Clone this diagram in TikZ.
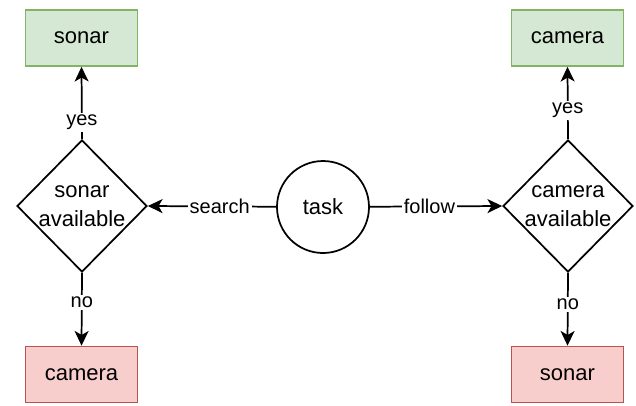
\documentclass[tikz,border=0pt]{standalone}
\usepackage{fontspec}
\setmainfont{Liberation Sans}
\usetikzlibrary{shapes.geometric,arrows.meta}
\definecolor{okfill}{HTML}{D5E8D4}
\definecolor{okline}{HTML}{82B366}
\definecolor{badfill}{HTML}{F8CECC}
\definecolor{badline}{HTML}{B85450}
\tikzset{
  box/.style={rectangle, draw, line width=1.3pt, minimum width=84pt, minimum height=42pt, inner sep=0pt,
    font=\fontsize{16.5}{20}\selectfont},
  okbox/.style={box, fill=okfill, draw=okline},
  badbox/.style={box, fill=badfill, draw=badline},
  choice/.style={diamond, draw, line width=1.3pt, minimum width=97.5pt, minimum height=99pt, inner sep=0pt},
  choicetext/.style={align=center, inner sep=0pt, font=\fontsize{16.5}{21.5}\selectfont},
  hub/.style={circle, draw, line width=1.3pt, minimum size=69pt, inner sep=0pt,
    font=\fontsize{16.5}{20}\selectfont},
  link/.style={line width=1.3pt, -{Stealth[length=11pt, width=10.5pt, inset=3pt]}},
  tag/.style={fill=white, inner sep=1.5pt, font=\fontsize{15}{18}\selectfont}
}
\begin{document}
\begin{tikzpicture}[x=0.75pt, y=-0.75pt]
  \useasboundingbox (0,0) rectangle (636,405);

  % central task
  \node[hub] (task) at (323,207) {task};

  % left branch: search
  \node[choice] (dl) at (82,206) {};
  \node[choicetext] at (dl) {sonar\\available};
  \node[okbox] (lt) at (81.5,38) {sonar};
  \node[badbox] (lb) at (81.5,374.5) {camera};

  % right branch: follow
  \node[choice] (dr) at (568,206) {};
  \node[choicetext] at (dr) {camera\\available};
  \node[okbox] (rt) at (567.5,38) {camera};
  \node[badbox] (rb) at (567.5,374.5) {sonar};

  % connectors
  \draw[link] (task) -- node[tag, pos=0.44] {search} (dl.east);
  \draw[link] (task) -- node[tag, pos=0.45] {follow} (dr.west);
  \draw[link] (dl.north) -- node[tag, pos=0.23] {yes} (lt.south);
  \draw[link] (dl.south) -- node[tag, pos=0.41] {no} (lb.north);
  \draw[link] (dr.north) -- node[tag, pos=0.4] {yes} (rt.south);
  \draw[link] (dr.south) -- node[tag, pos=0.43] {no} (rb.north);
\end{tikzpicture}
\end{document}
